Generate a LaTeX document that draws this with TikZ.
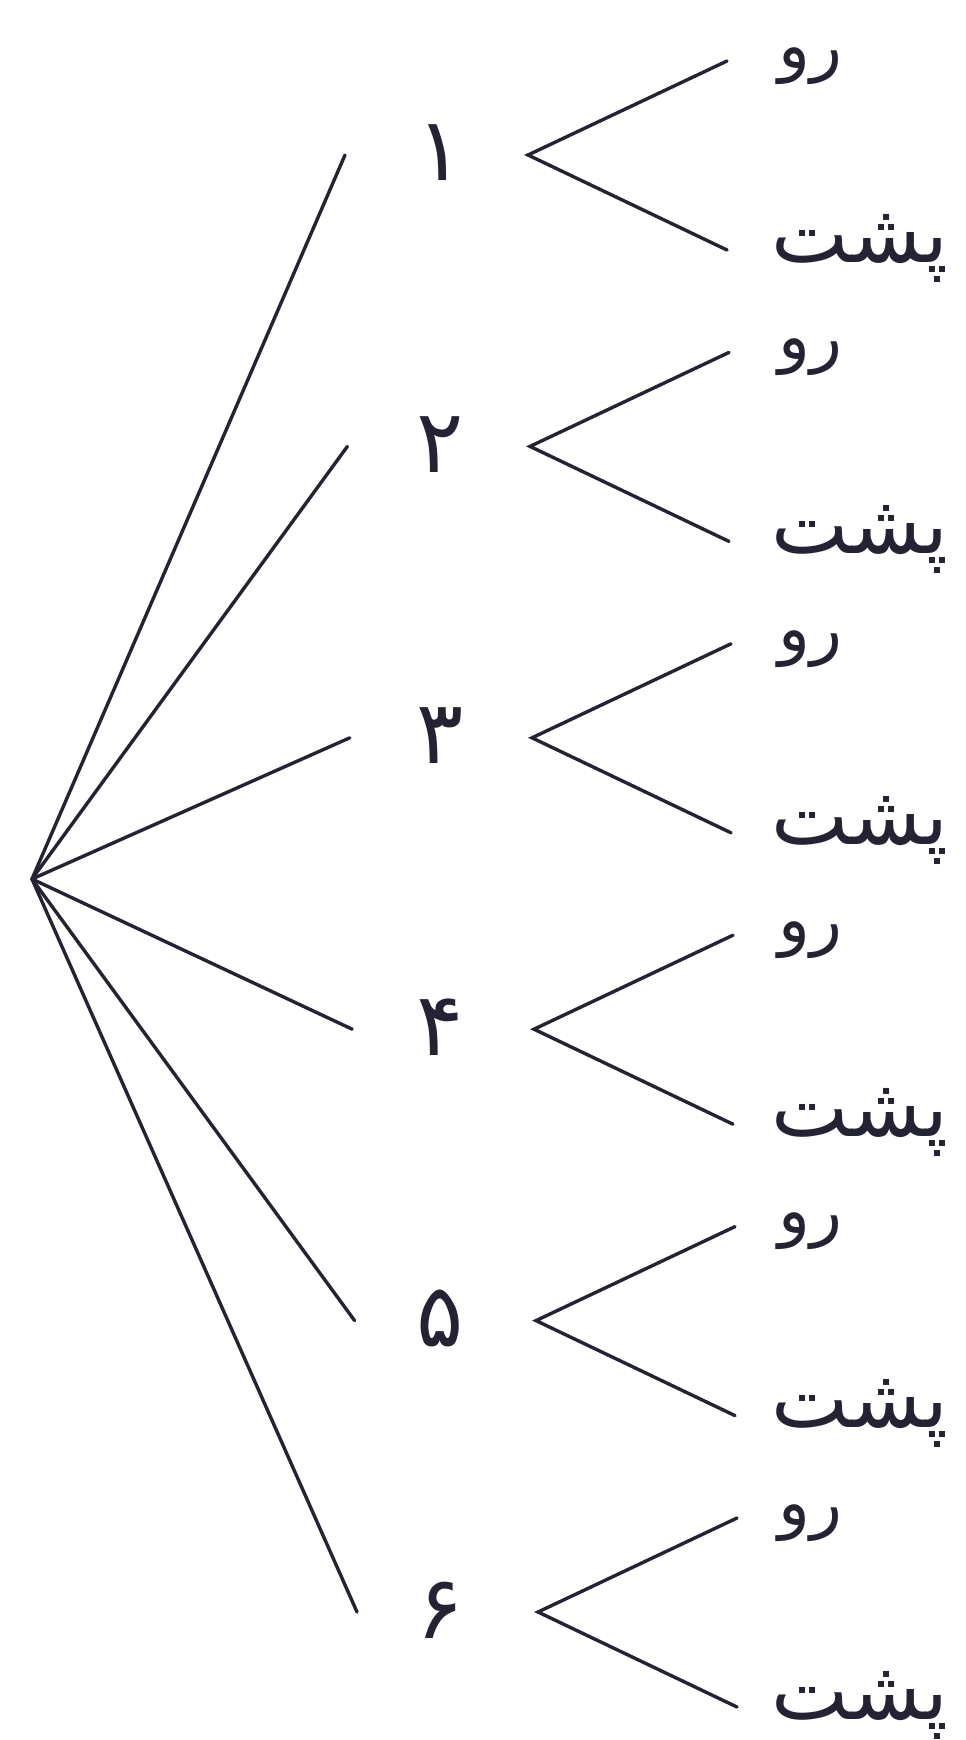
\documentclass[tikz,border=0pt]{standalone}
\usepackage{fontspec}
\TeXXeTstate=1
\newfontfamily\arabicfont[Script=Arabic]{DejaVu Sans}
\definecolor{ink}{RGB}{35,35,52}
\tikzset{
  edge/.style={draw=ink, line width=3.4pt, line cap=round},
  digit/.style={text=ink, inner sep=0pt, font=\arabicfont\fontsize{88}{88}\selectfont},
  ruword/.style={text=ink, inner sep=0pt, font=\arabicfont\fontsize{66}{66}\selectfont},
  poshtword/.style={text=ink, inner sep=0pt, font=\arabicfont\fontsize{82}{82}\selectfont},
}
\begin{document}
\begin{tikzpicture}[x=1pt,y=-1pt]
\useasboundingbox (0,0) rectangle (966,1740);
\coordinate (root) at (32,879);
\foreach \i/\d in {1/۱,2/۲,3/۳,4/۴,5/۵,6/۶}{
  \pgfmathsetmacro\v{155+(\i-1)*291.4}
  \pgfmathsetmacro\vx{528+(\i-1)*2}
  \pgfmathsetmacro\bx{345+(\i-1)*2.4}
  \pgfmathsetmacro\ax{727+(\i-1)*2}
  \coordinate (b\i) at (\bx,\v);
  \node[digit] (d\i) at (440,\v-2) {\beginR\d\endR};
  \coordinate (v\i) at (\vx,\v);
  \coordinate (u\i) at (\ax,\v-94);
  \coordinate (l\i) at (\ax,\v+95);
  \node[ruword] (r\i) at (810,\v-89) {\beginR رو\endR};
  \node[poshtword] (p\i) at (860,\v+93) {\beginR پشت\endR};
  \draw[edge] (root) -- (b\i);
  \draw[edge] (u\i) -- (v\i) -- (l\i);
}
\end{tikzpicture}
\end{document}
